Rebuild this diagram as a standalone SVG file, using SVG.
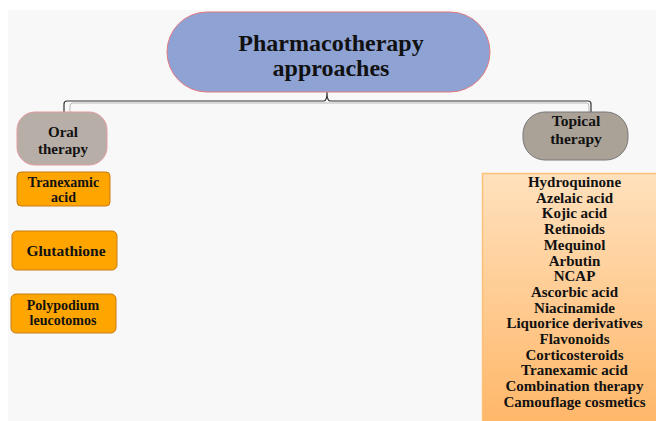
<svg xmlns="http://www.w3.org/2000/svg" width="656" height="421" viewBox="0 0 656 421">
<defs>
<linearGradient id="listGrad" x1="0" y1="0" x2="0" y2="1">
<stop offset="0" stop-color="#ffe1bd"/>
<stop offset="1" stop-color="#ffb565"/>
</linearGradient>
<style>
text{font-family:"Liberation Serif","Times New Roman",serif;font-weight:bold;fill:#111;text-anchor:middle}
.orange{fill:#ffa500;stroke:#c87a12;stroke-width:1}
.conn{fill:none;stroke:#333;stroke-width:1.2}
.shadow{fill:none;stroke:#bbb;stroke-width:1}
</style>
</defs>
<rect x="0" y="0" width="656" height="421" fill="#fff"/>
<rect x="8" y="10" width="648" height="411" fill="#f8f8f8"/>
<g id="connectors">
<path class="shadow" d="M70 112 V106 Q70 103 73 103 H586 Q589 103 589 106 V112"/>
<path class="conn" d="M64 112 V104 Q64 101 67 101 H324 Q327 101 327 92 Q327 101 330 101 H588 Q591 101 591 104 V112"/>
</g>
<g id="main">
<rect x="167" y="12" width="323" height="80" rx="40" fill="#8fa2d4" stroke="#e07a80" stroke-width="1"/>
<text x="331" y="51" font-size="24">Pharmacotherapy</text>
<text x="331" y="76" font-size="24">approaches</text>
</g>
<g id="oral">
<rect x="17" y="112" width="90" height="53" rx="18" fill="#b8aea8" stroke="#e49aa0" stroke-width="1"/>
<text x="63" y="137" font-size="15">Oral</text>
<text x="63" y="154" font-size="15">therapy</text>
</g>
<g id="tranexamic">
<rect class="orange" x="17" y="172" width="93" height="34" rx="4"/>
<text x="63.5" y="187" font-size="14">Tranexamic</text>
<text x="63.5" y="202" font-size="14">acid</text>
</g>
<g id="glutathione">
<rect class="orange" x="12" y="231" width="105" height="39" rx="5"/>
<text x="66" y="256" font-size="15.5">Glutathione</text>
</g>
<g id="polypodium">
<rect class="orange" x="11" y="294" width="105" height="39" rx="5"/>
<text x="63" y="310" font-size="14">Polypodium</text>
<text x="63" y="325" font-size="14">leucotomos</text>
</g>
<g id="topical">
<rect x="523" y="112" width="105" height="48" rx="22" fill="#aaa197" stroke="#777" stroke-width="1"/>
<text x="576" y="126" font-size="15.5">Topical</text>
<text x="576" y="144" font-size="15.5">therapy</text>
</g>
<g id="topical-list">
<rect x="482.5" y="173.5" width="180" height="260" fill="url(#listGrad)" stroke="#ffc078" stroke-width="1.5"/>
<g font-size="15">
<text x="574.5" y="187">Hydroquinone</text>
<text x="574.5" y="202.7">Azelaic acid</text>
<text x="574.5" y="218.4">Kojic acid</text>
<text x="574.5" y="234.1">Retinoids</text>
<text x="574.5" y="249.8">Mequinol</text>
<text x="574.5" y="265.5">Arbutin</text>
<text x="574.5" y="281.2">NCAP</text>
<text x="574.5" y="296.9">Ascorbic acid</text>
<text x="574.5" y="312.6">Niacinamide</text>
<text x="574.5" y="328.3">Liquorice derivatives</text>
<text x="574.5" y="344">Flavonoids</text>
<text x="574.5" y="359.7">Corticosteroids</text>
<text x="574.5" y="375.4">Tranexamic acid</text>
<text x="574.5" y="391.1">Combination therapy</text>
<text x="574.5" y="406.8">Camouflage cosmetics</text>
</g>
</g>
</svg>
